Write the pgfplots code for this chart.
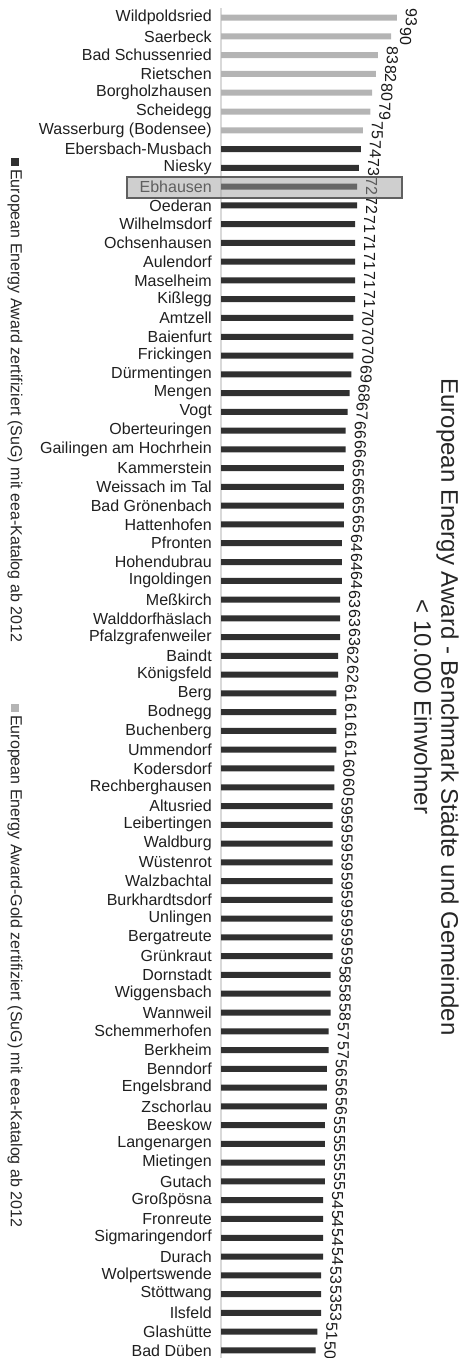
\documentclass[border=0pt]{standalone}
\usepackage{fontspec}
\setmainfont{Liberation Sans}
\usepackage{pgfplots}
\pgfplotsset{compat=1.18}
\definecolor{eeadark}{HTML}{303030}
\definecolor{eeagold}{HTML}{B4B4B4}
\definecolor{axisgray}{HTML}{D9D9D9}
\begin{document}
\begin{tikzpicture}
\begin{axis}[
  name=ax,
  at={(165.75pt,-6.2pt)}, anchor=north west,
  scale only axis, width=141.75pt, height=1013.6pt,
  xbar, bar width=4.5pt, bar shift=0pt,
  xmin=0, xmax=100, ymin=-0.5, ymax=71.5, y dir=reverse,
  axis x line=none, axis y line*=left,
  axis line style={-, draw=axisgray, line width=1.1pt},
  major tick length=0pt,
  ytick={0,...,71},
  yticklabels={{Wildpoldsried},{Saerbeck},{Bad Schussenried},{Rietschen},{Borgholzhausen},{Scheidegg},{Wasserburg (Bodensee)},{Ebersbach-Musbach},{Niesky},{Ebhausen},{Oederan},{Wilhelmsdorf},{Ochsenhausen},{Aulendorf},{Maselheim},{Kißlegg},{Amtzell},{Baienfurt},{Frickingen},{Dürmentingen},{Mengen},{Vogt},{Oberteuringen},{Gailingen am Hochrhein},{Kammerstein},{Weissach im Tal},{Bad Grönenbach},{Hattenhofen},{Pfronten},{Hohendubrau},{Ingoldingen},{Meßkirch},{Walddorfhäslach},{Pfalzgrafenweiler},{Baindt},{Königsfeld},{Berg},{Bodnegg},{Buchenberg},{Ummendorf},{Kodersdorf},{Rechberghausen},{Altusried},{Leibertingen},{Waldburg},{Wüstenrot},{Walzbachtal},{Burkhardtsdorf},{Unlingen},{Bergatreute},{Grünkraut},{Dornstadt},{Wiggensbach},{Wannweil},{Schemmerhofen},{Berkheim},{Benndorf},{Engelsbrand},{Zschorlau},{Beeskow},{Langenargen},{Mietingen},{Gutach},{Großpösna},{Fronreute},{Sigmaringendorf},{Durach},{Wolpertswende},{Stöttwang},{Ilsfeld},{Glashütte},{Bad Düben}},
  yticklabel style={font=\fontsize{12}{14}\selectfont, text=black!88, inner sep=0pt, xshift=-6.75pt},
  point meta=x,
  nodes near coords,
  /pgf/number format/assume math mode=true,
  every node near coord/.append style={font=\fontsize{12}{14}\selectfont, text=black!90, rotate=-90, anchor=south, inner xsep=0pt, inner ysep=6.5pt},
  clip=false,
]
% eea-Gold
\addplot[fill=eeagold, draw=none] coordinates {
(93,0) (90,1) (83,2) (82,3) (80,4) (79,5) (75,6)
};
% eea
\addplot[fill=eeadark, draw=none] coordinates {
(74,7) (73,8) (72,9) (72,10) (71,11) (71,12) (71,13) (71,14) (71,15)
(70,16) (70,17) (70,18) (69,19) (68,20) (67,21) (66,22) (66,23)
(65,24) (65,25) (65,26) (65,27) (64,28) (64,29) (64,30)
(63,31) (63,32) (63,33) (62,34) (62,35) (61,36) (61,37) (61,38) (61,39)
(60,40) (60,41) (59,42) (59,43) (59,44) (59,45) (59,46) (59,47) (59,48) (59,49) (59,50)
(58,51) (58,52) (58,53) (57,54) (57,55) (56,56) (56,57) (56,58)
(55,59) (55,60) (55,61) (55,62) (54,63) (54,64) (54,65) (54,66)
(53,67) (53,68) (53,69) (51,70) (50,71)
};
\end{axis}
% highlight Ebhausen
\draw[draw=gray!75!black, line width=1pt, fill=gray!75, fill opacity=0.5] (95.25pt,-132.75pt) rectangle (301.5pt,-148.5pt);
% title
\node[rotate=-90, align=center, font=\fontsize{18}{20.25}\selectfont, text=black!85] at (327.4pt,-530.25pt)
  {European Energy Award - Benchmark Städte und Gemeinden\\< 10.000 Einwohner};
% legend
\fill[eeadark] (8.25pt,-124.5pt) rectangle (14.25pt,-118.5pt);
\node[rotate=-90, anchor=west, inner sep=0pt, font=\fontsize{12}{14}\selectfont, text=black!85] at (11.25pt,-126.75pt)
  {European Energy Award zertifiziert (SuG) mit eea-Katalog ab 2012};
\fill[eeagold] (8.25pt,-534pt) rectangle (14.25pt,-528pt);
\node[rotate=-90, anchor=west, inner sep=0pt, font=\fontsize{12}{14}\selectfont, text=black!85] at (11.25pt,-536.25pt)
  {European Energy Award-Gold zertifiziert (SuG) mit eea-Katalog ab 2012};
\pgfresetboundingbox
\path (0pt,0pt) rectangle (351.75pt,-1018.5pt);
\end{tikzpicture}
\end{document}
